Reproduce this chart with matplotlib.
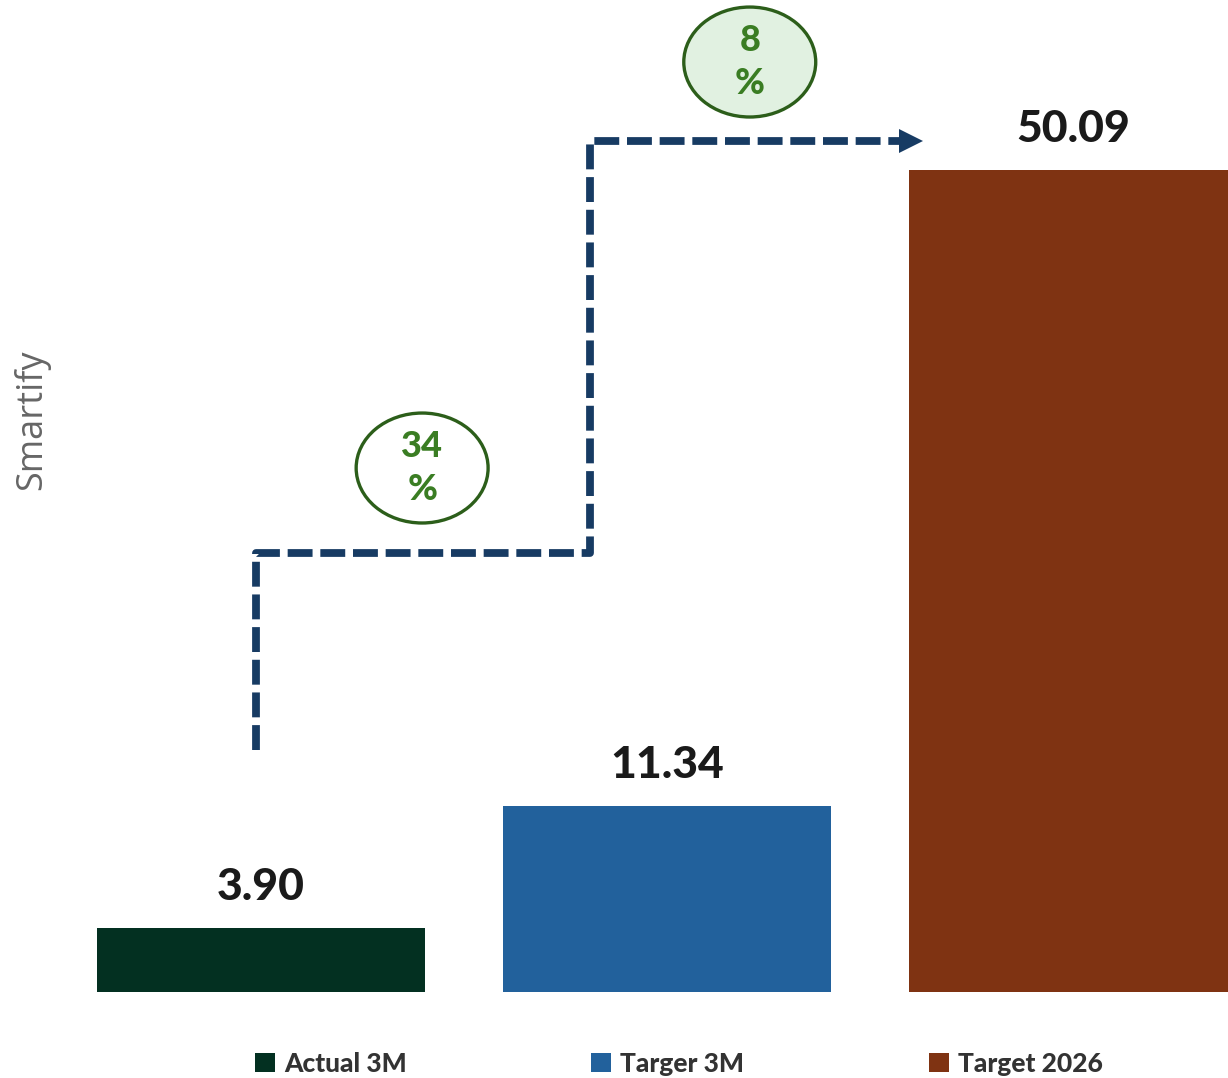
import numpy as np
import matplotlib
matplotlib.use("Agg")
from matplotlib import pyplot as plt
from matplotlib.patches import Ellipse, Patch

categories = ["Actual 3M", "Targer 3M", "Target 2026"]
values = [3.90, 11.34, 50.09]
colors = ["#033021", "#22619c", "#7f3312"]
growth_labels = ["34\n%", "8\n%"]


def main():
    plt.rcParams['font.family'] = ['Lato', 'DejaVu Sans']
    fig = plt.figure(figsize=(12.28, 10.78), dpi=100)
    # axes spans pixel x 60..1228, y 0..992 (from top)
    ax = fig.add_axes([60 / 1228, (1078 - 992) / 1078, 1168 / 1228, 992 / 1078])

    x = np.arange(len(values))
    ax.bar(x, values, width=0.808, color=colors)
    ax.set_xlim(-0.495, 2.382)
    ax.set_ylim(0, 60.45)

    for xi, v in zip(x, values):
        ax.annotate(f"{v:.2f}", (xi, v), xytext=(0, 20), textcoords="offset points",
                    ha="center", va="baseline", fontsize=32, fontweight="black",
                    color="#1a1a1a")

    # step line connecting the bars
    step_x = [-0.012, -0.012, 0.81, 0.81, 1.60]
    step_y = [14.75, 26.75, 26.75, 51.86, 51.86]
    ax.plot(step_x, step_y, color="#173b63", linewidth=5.6, dashes=(3.2, 1.0),
            solid_joinstyle="miter", dash_capstyle="butt")
    ax.plot([1.60], [51.86], marker=">", markersize=17, color="#173b63",
            markeredgewidth=0)

    # growth bubbles
    bubbles = [((0.397, 31.93), "white"), ((1.204, 56.67), "#e1f1e1")]
    for (cx, cy), fc in bubbles:
        ax.add_patch(Ellipse((cx, cy), 0.325, 6.7, facecolor=fc,
                             edgecolor="#2c5e1a", linewidth=2.4, zorder=3))
    for ((cx, cy), fc), lab in zip(bubbles, growth_labels):
        ax.text(cx, cy, lab, ha="center", va="center", fontsize=26,
                fontweight="black", color="#3a7d23", linespacing=1.35, zorder=4)

    for s in ax.spines.values():
        s.set_visible(False)
    ax.set_xticks([])
    ax.set_yticks([])

    fig.text(32 / 1228, 1 - 420 / 1078, "Smartify", rotation=90, ha="center",
             va="center", fontsize=26, color="#666666", family=['Open Sans', 'DejaVu Sans'])

    handles = [Patch(facecolor=c) for c in colors]
    fig.legend(handles, categories, loc="center", bbox_to_anchor=(679 / 1228, 14 / 1078),
               ncol=3, frameon=False, handlelength=0.75, handleheight=0.75,
               handletextpad=0.35, columnspacing=7.0, prop={'weight': 'black', 'size': 19})
    for t in fig.legends[0].get_texts():
        t.set_color("#333333")

    fig.savefig("out.png", dpi=100)


if __name__ == '__main__':
    main()
